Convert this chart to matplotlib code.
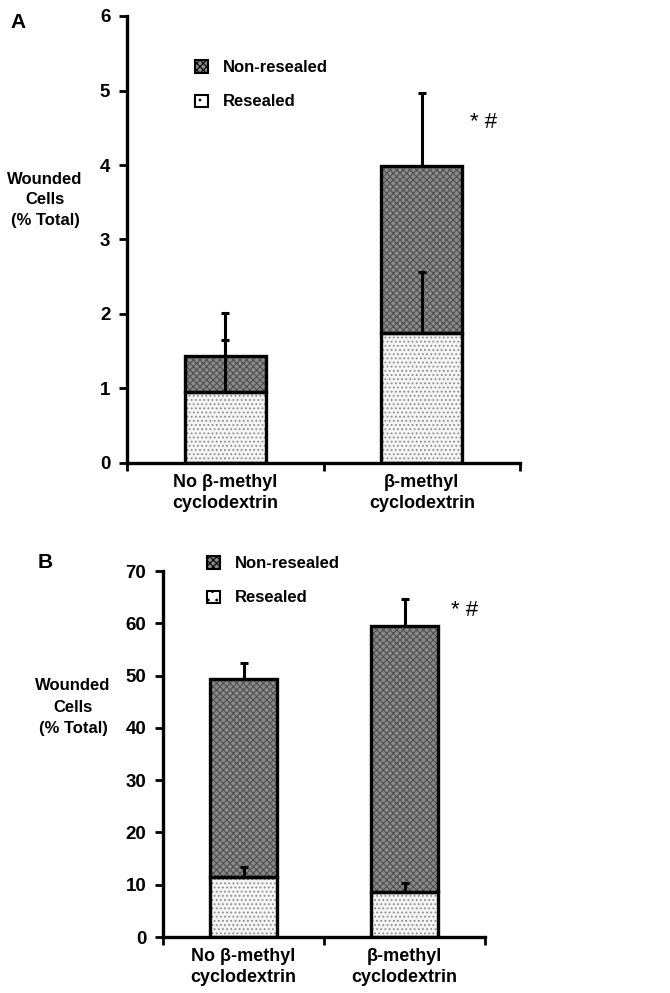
import numpy as np
import matplotlib
matplotlib.use('Agg')
import matplotlib.pyplot as plt
from matplotlib.patches import Patch

plt.rcParams['font.family'] = ['Liberation Sans', 'DejaVu Sans']
plt.rcParams['hatch.linewidth'] = 0.8

# data
groups = ['No \u03b2-methyl\ncyclodextrin', '\u03b2-methyl\ncyclodextrin']

# panel A
resealed_a = [0.95, 1.75]
resealed_a_err = [0.70, 0.82]
nonresealed_a = [0.48, 2.23]   # stacked on resealed, totals 1.43 and 3.98
total_a_err = [0.59, 0.98]
ticks_a = [0, 1, 2, 3, 4, 5, 6]

# panel B
resealed_b = [11.5, 8.7]
resealed_b_err = [1.9, 1.6]
nonresealed_b = [37.8, 50.8]   # totals 49.3 and 59.5
total_b_err = [3.2, 5.2]
ticks_b = [0, 10, 20, 30, 40, 50, 60, 70]

W, H = 670, 993
fig = plt.figure(figsize=(6.7, 9.93), dpi=100)

def px(x, y):
    # pixel coords -> figure fraction
    return x / W, 1 - y / H

dark = '#8a8a8a'
light = '#f4f4f4'

def panel(rect, res, res_err, non, tot_err, ticks, ymax):
    ax = fig.add_axes(rect)
    xs = np.array([0.5, 1.5])
    bw = 0.41
    res = np.array(res)
    non = np.array(non)
    tot = res + non
    # fills with texture
    ax.bar(xs, res, bw, color=light, edgecolor='#8c8c8c', hatch='....', linewidth=0, zorder=2)
    ax.bar(xs, non, bw, bottom=res, color=dark, edgecolor='#505050', hatch='xxxxx', linewidth=0, zorder=2)
    # outlines
    ax.bar(xs, res, bw, fill=False, edgecolor='black', linewidth=2.4, zorder=3)
    ax.bar(xs, non, bw, bottom=res, fill=False, edgecolor='black', linewidth=2.4, zorder=3)
    # one-sided error bars
    ax.errorbar(xs, res, yerr=[np.zeros(2), res_err], fmt='none', ecolor='black',
                elinewidth=2.2, capsize=3, capthick=2.2, zorder=4)
    ax.errorbar(xs, tot, yerr=[np.zeros(2), tot_err], fmt='none', ecolor='black',
                elinewidth=2.2, capsize=3, capthick=2.2, zorder=4)
    ax.set_xlim(0, 2)
    ax.set_ylim(0, ymax)
    ax.set_yticks(ticks)
    ax.set_xticks([0, 1, 2])
    ax.set_xticklabels([])
    ax.set_xticks(xs, minor=True)
    ax.set_xticklabels(groups, minor=True, fontsize=13, fontweight='bold', linespacing=1.3)
    ax.tick_params(axis='x', which='minor', length=0, pad=8)
    ax.tick_params(axis='x', which='major', length=6, width=2, direction='out')
    ax.tick_params(axis='y', length=6, width=2, direction='out', labelsize=13.5, pad=6)
    for lab in ax.get_yticklabels():
        lab.set_fontweight('bold')
    for s in ['top', 'right']:
        ax.spines[s].set_visible(False)
    for s in ['left', 'bottom']:
        ax.spines[s].set_linewidth(2.4)
    return ax

# panel A axes: x 127..520 px, y 16..463 px
l, b = px(127, 463)
r, t = px(520, 16)
axA = panel([l, b, r - l, t - b], resealed_a, resealed_a_err, nonresealed_a, total_a_err, ticks_a, 6)

# panel B axes: x 163..485 px, y 571..937 px
l, b = px(163, 937)
r, t = px(485, 571)
axB = panel([l, b, r - l, t - b], resealed_b, resealed_b_err, nonresealed_b, total_b_err, ticks_b, 70)

handles = [Patch(facecolor=dark, edgecolor='black', hatch='xxxxx', linewidth=1.5),
           Patch(facecolor='white', edgecolor='black', hatch='..', linewidth=1.5)]
labels = ['Non-resealed', 'Resealed']
for ax, (lx, ly) in [(axA, (187, 52)), (axB, (199, 548))]:
    ax.legend(handles, labels, loc='upper left', bbox_to_anchor=px(lx, ly),
              bbox_transform=fig.transFigure, frameon=False, borderpad=0,
              handlelength=0.75, handleheight=0.75, handletextpad=0.9,
              labelspacing=1.15, prop={'weight': 'bold', 'size': 12})

# panel letters, y labels, significance marks
fig.text(*px(10, 22), 'A', fontsize=15, fontweight='bold', va='center', ha='left')
fig.text(*px(38, 562), 'B', fontsize=15, fontweight='bold', va='center', ha='left')
ylab = 'Wounded\nCells\n(% Total)'
fig.text(*px(45, 200), ylab, fontsize=12, fontweight='bold', ha='center', va='center', linespacing=1.5)
fig.text(*px(73, 707), ylab, fontsize=12, fontweight='bold', ha='center', va='center', linespacing=1.5)
fig.text(*px(484, 123), '* #', fontsize=16, ha='center', va='center')
fig.text(*px(465, 610), '* #', fontsize=16, ha='center', va='center')

fig.savefig('out.png', dpi=100)
